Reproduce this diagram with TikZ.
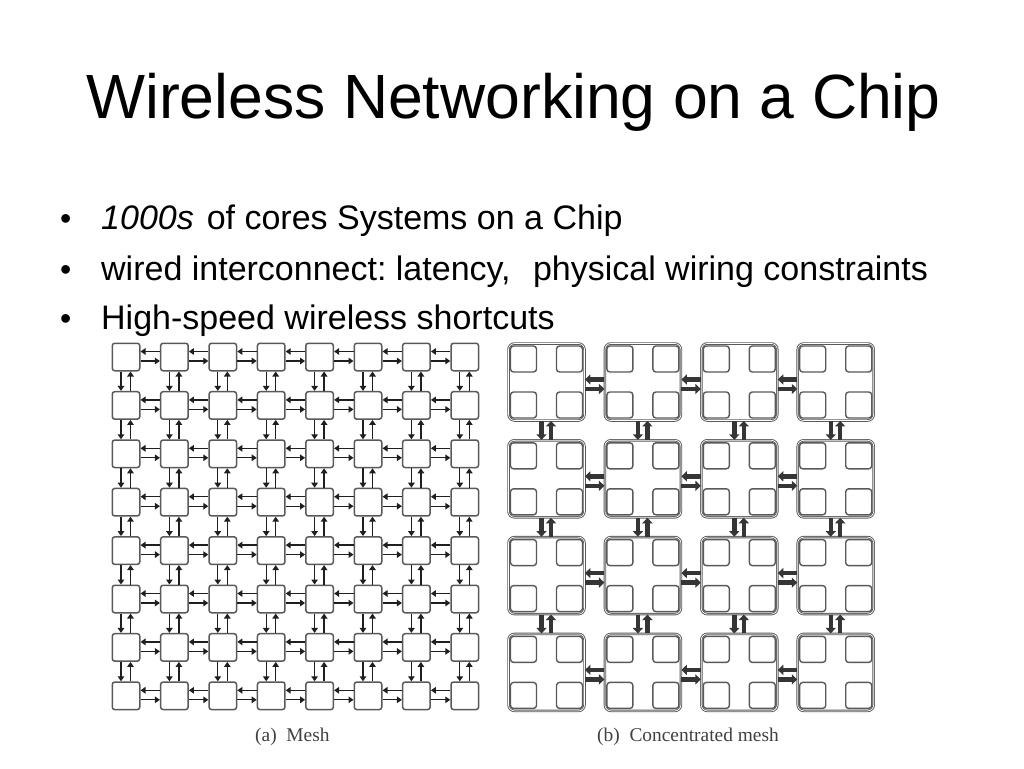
\documentclass[tikz,border=0pt]{standalone}
\usepackage{fontspec}
\setmainfont{Liberation Sans}
\newfontfamily\capfont{Liberation Serif}
\usetikzlibrary{arrows.meta,calc}
\definecolor{boxgray}{gray}{0.35}
\definecolor{wiregray}{gray}{0.12}
\tikzset{
  txt/.style={anchor=base west,inner sep=0pt,text=black},
  titletxt/.style={txt,font=\fontsize{62.5}{63}\selectfont},
  bodytxt/.style={txt,font=\fontsize{34}{34}\selectfont},
  bullettxt/.style={txt,font=\fontsize{32}{32}\selectfont},
  captxt/.style={txt,font=\capfont\fontsize{19.4}{20}\selectfont,text=black!75},
  meshbox/.style={draw=boxgray,line width=1.5pt,rounded corners=2.5pt,minimum width=27.5pt,minimum height=27.5pt,inner sep=0pt,fill=white},
  corebox/.style={draw=boxgray,line width=1.4pt,rounded corners=3pt,minimum width=26pt,minimum height=26pt,inner sep=0pt,fill=white},
  clusterbox/.style={draw=boxgray,line width=.9pt,double=white,double distance=.7pt,rounded corners=6pt,minimum width=76pt,minimum height=77pt,inner sep=0pt},
  thinwire/.style={draw=wiregray,line width=1.3pt,-{Triangle[length=5pt,width=6.5pt]}},
  fatwire/.style={draw=wiregray!90,line width=4.4pt,-{Triangle[length=5.5pt,width=10pt]}}
}
\begin{document}
\frenchspacing
\begin{tikzpicture}[x=1pt,y=-1pt]
\useasboundingbox (0,0) rectangle (1024,768);
\node[titletxt] (title) at (86,118) {Wireless Networking on a Chip};
\node[bullettxt] (b1) at (60,229) {•};
\node[bullettxt] (b2) at (60,280) {•};
\node[bullettxt] (b3) at (60,329) {•};
\node[bodytxt] (t1) at (101,229) {\textit{1000s}\hspace{3.5pt} of cores Systems on a Chip};
\node[bodytxt] (t2) at (101,280) {wired interconnect: latency,\ \ \hspace{3.5pt}physical wiring constraints};
\node[bodytxt] (t3) at (101,329) {High-speed wireless shortcuts};
% mesh
\foreach \r in {0,...,7}
  \foreach \c in {0,...,7}
    \node[meshbox] (m-\r-\c) at ({126+48.4*\c},{357+48.4*\r}) {};
\foreach \r in {0,...,7}
  \foreach \c in {0,...,6} {
    \pgfmathtruncatemacro{\n}{\c+1}
    \draw[thinwire] ([yshift=5.5pt]m-\r-\n.west) -- ([yshift=5.5pt]m-\r-\c.east);
    \draw[thinwire] ([yshift=-4pt]m-\r-\c.east) -- ([yshift=-4pt]m-\r-\n.west);
  }
\foreach \c in {0,...,7}
  \foreach \r in {0,...,6} {
    \pgfmathtruncatemacro{\n}{\r+1}
    \draw[thinwire] ([xshift=-5pt]m-\r-\c.south) -- ([xshift=-5pt]m-\n-\c.north);
    \draw[thinwire] ([xshift=4.5pt]m-\n-\c.north) -- ([xshift=4.5pt]m-\r-\c.south);
  }
% concentrated mesh
\foreach \r in {0,...,3}
  \foreach \c in {0,...,3} {
    \node[clusterbox] (k-\r-\c) at ({546.5+96.4*\c},{382+96.8*\r}) {};
    \node[corebox] (k-\r-\c-a) at ($(k-\r-\c.center)+(-23,-23)$) {};
    \node[corebox] (k-\r-\c-b) at ($(k-\r-\c.center)+(23,-23)$) {};
    \node[corebox] (k-\r-\c-d) at ($(k-\r-\c.center)+(-23,23)$) {};
    \node[corebox] (k-\r-\c-e) at ($(k-\r-\c.center)+(23,23)$) {};
  }
\foreach \r in {0,...,3}
  \foreach \c in {0,1,2} {
    \pgfmathtruncatemacro{\n}{\c+1}
    \draw[fatwire] ([yshift=2.5pt]k-\r-\n.west) -- ([yshift=2.5pt]k-\r-\c.east);
    \draw[fatwire] ([yshift=-7pt]k-\r-\c.east) -- ([yshift=-7pt]k-\r-\n.west);
  }
\foreach \c in {0,...,3}
  \foreach \r in {0,1,2} {
    \pgfmathtruncatemacro{\n}{\r+1}
    \draw[fatwire] ([xshift=-5pt]k-\r-\c.south) -- ([xshift=-5pt]k-\n-\c.north);
    \draw[fatwire] ([xshift=4.5pt]k-\n-\c.north) -- ([xshift=4.5pt]k-\r-\c.south);
  }
\node[captxt] (capa) at (255,741) {(a)\ \ Mesh};
\node[captxt] (capb) at (597,741) {(b)\ \ Concentrated mesh};
\end{tikzpicture}
\end{document}
